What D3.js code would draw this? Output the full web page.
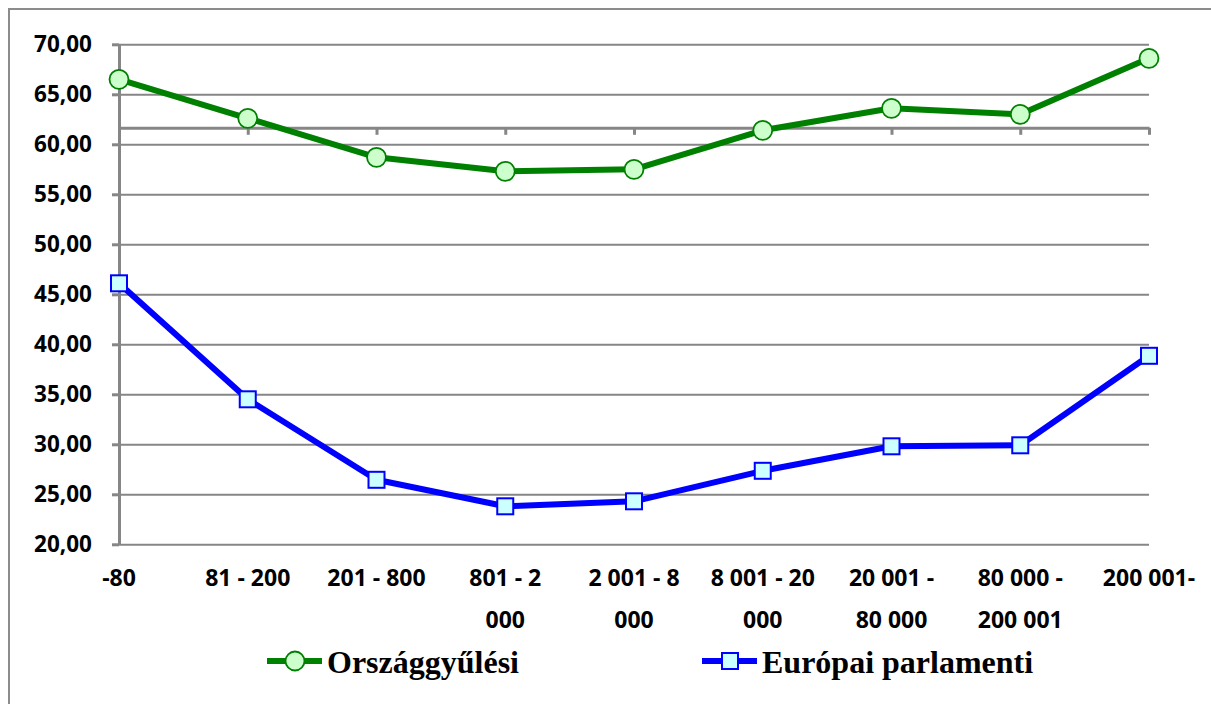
<html>
<head>
<style>
    body { margin: 0; background: #fff; }
</style>
</head>
<body>
<script src="https://cdn.jsdelivr.net/npm/d3@7"></script>
<script>

    // data
    var categories = ["-80", "81 - 200", "201 - 800", "801 - 2 000", "2 001 - 8 000",
        "8 001 - 20 000", "20 001 - 80 000", "80 000 - 200 001", "200 001-"];
    // how the category labels wrap in the original
    var categoryLabels = [["-80"], ["81 - 200"], ["201 - 800"], ["801 - 2", "000"], ["2 001 - 8", "000"],
        ["8 001 - 20", "000"], ["20 001 -", "80 000"], ["80 000 -", "200 001"], ["200 001-"]];
    var orszaggyulesi = [66.5, 62.6, 58.7, 57.3, 57.5, 61.4, 63.6, 63.0, 68.6];
    var europai = [46.1, 34.5, 26.45, 23.8, 24.3, 27.35, 29.8, 29.9, 38.85];
    var yTicks = [20, 25, 30, 35, 40, 45, 50, 55, 60, 65, 70];
    var axisCross = 61.65; // the category axis crosses the value axis here

    var series = [
        { name: "Országgyűlési", values: orszaggyulesi, color: "#008000", fill: "#ccffcc", marker: "circle" },
        { name: "Európai parlamenti", values: europai, color: "#0000ff", fill: "#ccffff", marker: "square" }
    ];

    var W = 1211, H = 704;
    var margin = { top: 44.3, left: 119, right: 62, bottom: 159.7 };
    var width = W - margin.left - margin.right,
        height = H - margin.top - margin.bottom;

    var grey = "#868686";
    var fmt = function(d) { return d3.format(".2f")(d).replace(".", ","); };

    var x = d3.scalePoint().domain(categories).range([0, width]);
    var y = d3.scaleLinear().domain([20, 70]).range([height, 0]);

    var svg = d3.select("body").append("svg")
        .attr("width", W)
        .attr("height", H);

    // outer frame
    svg.append("rect")
        .attr("x", 9).attr("y", 9)
        .attr("width", W + 10).attr("height", H + 10)
        .style("fill", "none")
        .style("stroke", "#8c8c8c")
        .style("stroke-width", 2);

    var g = svg.append("g")
        .attr("transform", "translate(" + margin.left + "," + margin.top + ")");

    // gridlines
    g.append("g")
        .call(d3.axisLeft(y).tickValues(yTicks).tickSize(-width).tickFormat(""))
        .call(function(s) {
            s.select(".domain").remove();
            s.selectAll("line").style("stroke", grey).style("stroke-width", 2);
        });

    // value axis
    g.append("g")
        .call(d3.axisLeft(y).tickValues(yTicks).tickSize(7).tickSizeOuter(0).tickPadding(20).tickFormat(fmt))
        .call(function(s) {
            s.select(".domain").style("stroke", grey).style("stroke-width", 3);
            s.selectAll("line").style("stroke", grey).style("stroke-width", 3);
            s.selectAll("text")
                .attr("dy", "0.3em")
                .style("font-family", "'Open Sans', sans-serif")
                .style("font-weight", "bold")
                .style("font-size", "22.5px")
                .style("fill", "#000");
        });

    // category axis, drawn where it crosses the value axis
    g.append("g")
        .attr("transform", "translate(0," + y(axisCross) + ")")
        .call(d3.axisBottom(x).tickSize(7).tickSizeOuter(0).tickFormat(""))
        .call(function(s) {
            s.select(".domain").style("stroke", grey).style("stroke-width", 3);
            s.selectAll("line").style("stroke", grey).style("stroke-width", 3);
        });

    // category labels at the bottom
    var labels = g.append("g")
        .selectAll("text").data(categories)
        .enter().append("text")
        .attr("x", function(d) { return x(d); })
        .attr("y", height + 42)
        .attr("text-anchor", "middle")
        .style("font-family", "'Open Sans', sans-serif")
        .style("font-weight", "bold")
        .style("font-size", "23px")
        .style("fill", "#000");
    labels.selectAll("tspan")
        .data(function(d, i) { return categoryLabels[i]; })
        .enter().append("tspan")
        .attr("x", function() { return x(d3.select(this.parentNode).datum()); })
        .attr("dy", function(d, i) { return i === 0 ? 0 : 42; })
        .text(function(d) { return d; });

    // lines and markers
    var line = d3.line()
        .x(function(d, i) { return x(categories[i]); })
        .y(function(d) { return y(d); });

    function drawMarker(sel, s, cx, cy) {
        if (s.marker === "circle") {
            sel.append("circle")
                .attr("cx", cx).attr("cy", cy).attr("r", 9.5)
                .style("fill", s.fill).style("stroke", s.color).style("stroke-width", 1.8);
        } else {
            sel.append("rect")
                .attr("x", cx - 8).attr("y", cy - 8)
                .attr("width", 16).attr("height", 16)
                .style("fill", s.fill).style("stroke", s.color).style("stroke-width", 2);
        }
    }

    series.forEach(function(s) {
        g.append("path")
            .datum(s.values)
            .attr("d", line)
            .style("fill", "none")
            .style("stroke", s.color)
            .style("stroke-width", 6)
            .style("stroke-linejoin", "round");
        var m = g.append("g");
        s.values.forEach(function(v, i) {
            drawMarker(m, s, x(categories[i]), y(v));
        });
    });

    // legend
    var legendX = [267, 702], legendY = 661;
    series.forEach(function(s, i) {
        var lg = svg.append("g").attr("transform", "translate(" + legendX[i] + "," + legendY + ")");
        lg.append("line")
            .attr("x1", 0).attr("x2", 55)
            .style("stroke", s.color).style("stroke-width", 6);
        drawMarker(lg, s, 28, 0);
        lg.append("text")
            .attr("x", 60)
            .attr("y", 12)
            .style("font-family", "'Liberation Serif', 'Times New Roman', serif")
            .style("font-weight", "bold")
            .style("font-size", "32px")
            .style("fill", "#000")
            .text(s.name);
    });

</script>
</body>
</html>
